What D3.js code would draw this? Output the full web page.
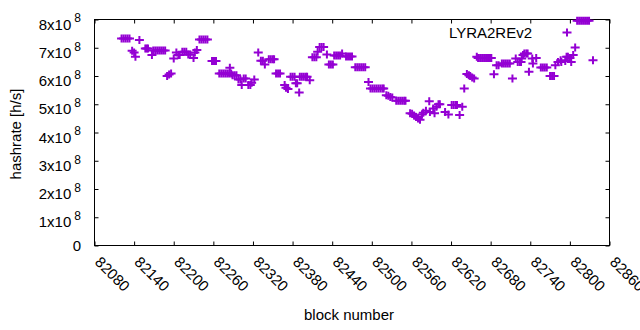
<!DOCTYPE html>
<html>
<head>
<meta charset="utf-8">
<script src="https://cdn.jsdelivr.net/npm/d3@7"></script>
<style>
  html, body { margin: 0; padding: 0; background: #fff; }
  svg { display: block; font-family: "Liberation Sans", Arial, sans-serif; }
</style>
</head>
<body>
<svg id="chart" width="640" height="330"></svg>
<script>
// ---- data ----
const seriesName = "LYRA2REv2";
const xTicks = [82080, 82140, 82200, 82260, 82320, 82380, 82440, 82500, 82560, 82620, 82680, 82740, 82800, 82860];
const yTicks = [0, 1e8, 2e8, 3e8, 4e8, 5e8, 6e8, 7e8, 8e8];
const blocks = [
  82121, 82124, 82127, 82130, 82133, 82137, 82140, 82142, 82148, 82157, 82159, 82161,
  82167, 82169, 82172, 82175, 82178, 82181, 82184, 82187, 82190, 82193, 82196, 82200,
  82204, 82207, 82209, 82213, 82216, 82219, 82222, 82225, 82230, 82232, 82235, 82239,
  82242, 82245, 82248, 82251, 82258, 82261, 82264, 82269, 82272, 82275, 82278, 82281,
  82284, 82285, 82287, 82289, 82292, 82295, 82298, 82301, 82303, 82306, 82309, 82313,
  82316, 82318, 82322, 82328, 82332, 82335, 82338, 82344, 82347, 82350, 82352, 82355,
  82358, 82361, 82368, 82370, 82373, 82377, 82380, 82383, 82385, 82387, 82390, 82391,
  82394, 82397, 82400, 82402, 82406, 82410, 82413, 82416, 82418, 82421, 82424, 82427,
  82432, 82435, 82438, 82441, 82443, 82446, 82449, 82452, 82455, 82461, 82464, 82467,
  82470, 82475, 82478, 82481, 82484, 82487, 82490, 82495, 82498, 82501, 82504, 82507,
  82510, 82513, 82516, 82518, 82522, 82525, 82528, 82531, 82537, 82540, 82543, 82546,
  82549, 82551, 82558, 82561, 82564, 82567, 82570, 82573, 82576, 82578, 82582, 82587,
  82588, 82593, 82595, 82598, 82601, 82603, 82611, 82616, 82621, 82624, 82627, 82629,
  82633, 82637, 82640, 82644, 82647, 82649, 82652, 82655, 82659, 82661, 82664, 82667,
  82670, 82673, 82676, 82679, 82681, 82685, 82689, 82692, 82697, 82700, 82703, 82706,
  82709, 82713, 82718, 82721, 82724, 82726, 82727, 82729, 82731, 82734, 82736, 82738,
  82743, 82744, 82749, 82756, 82759, 82762, 82765, 82770, 82773, 82776, 82778, 82782,
  82786, 82787, 82793, 82795, 82797, 82800, 82802, 82805, 82808, 82811, 82814, 82817,
  82820, 82823, 82826, 82829, 82835
];
const hashrate = [
  7.33e8, 7.33e8, 7.33e8, 7.33e8, 7.33e8, 6.89e8, 6.83e8, 6.68e8, 7.27e8, 6.97e8, 6.97e8, 6.97e8,
  6.74e8, 6.90e8, 6.90e8, 6.90e8, 6.90e8, 6.90e8, 6.90e8, 6.90e8, 6.00e8, 6.05e8, 6.09e8, 6.62e8,
  6.83e8, 6.74e8, 6.74e8, 6.86e8, 6.86e8, 6.86e8, 6.76e8, 6.76e8, 6.64e8, 6.83e8, 6.92e8, 7.29e8,
  7.29e8, 7.29e8, 7.29e8, 7.29e8, 6.53e8, 6.53e8, 6.53e8, 6.09e8, 6.09e8, 6.09e8, 6.09e8, 6.09e8,
  6.09e8, 6.29e8, 6.09e8, 6.03e8, 6.03e8, 6.03e8, 5.88e8, 5.88e8, 5.68e8, 5.91e8, 5.91e8, 5.68e8,
  5.68e8, 5.76e8, 5.88e8, 6.83e8, 6.54e8, 6.54e8, 6.41e8, 6.59e8, 6.59e8, 6.59e8, 6.59e8, 6.09e8,
  6.09e8, 6.09e8, 5.68e8, 5.58e8, 5.54e8, 5.97e8, 5.97e8, 5.97e8, 5.74e8, 5.74e8, 5.42e8, 5.97e8,
  5.97e8, 5.97e8, 5.97e8, 5.97e8, 5.85e8, 6.66e8, 6.66e8, 6.66e8, 6.86e8, 7.03e8, 7.03e8, 7.03e8,
  6.76e8, 6.41e8, 6.41e8, 6.41e8, 6.73e8, 6.73e8, 6.73e8, 6.73e8, 6.80e8, 6.69e8, 6.69e8, 6.69e8,
  6.69e8, 6.31e8, 6.31e8, 6.31e8, 6.31e8, 6.31e8, 6.31e8, 5.79e8, 5.56e8, 5.56e8, 5.56e8, 5.56e8,
  5.56e8, 5.56e8, 5.56e8, 5.56e8, 5.32e8, 5.30e8, 5.26e8, 5.24e8, 5.12e8, 5.12e8, 5.12e8, 5.12e8,
  5.12e8, 5.12e8, 4.68e8, 4.66e8, 4.60e8, 4.55e8, 4.50e8, 4.45e8, 4.64e8, 4.70e8, 4.77e8, 5.11e8,
  4.73e8, 4.85e8, 4.68e8, 4.91e8, 5.00e8, 5.00e8, 4.73e8, 4.64e8, 4.97e8, 4.97e8, 4.97e8, 4.97e8,
  4.62e8, 4.91e8, 5.56e8, 6.07e8, 6.03e8, 6.00e8, 5.95e8, 5.91e8, 6.68e8, 6.64e8, 6.64e8, 6.64e8,
  6.64e8, 6.64e8, 6.64e8, 6.64e8, 6.64e8, 6.06e8, 6.38e8, 6.38e8, 6.44e8, 6.44e8, 6.44e8, 6.44e8,
  6.44e8, 5.91e8, 6.62e8, 6.50e8, 6.50e8, 6.50e8, 6.62e8, 6.74e8, 6.80e8, 6.80e8, 6.80e8, 6.15e8,
  6.62e8, 6.44e8, 6.64e8, 6.30e8, 6.30e8, 6.30e8, 6.30e8, 6.00e8, 6.00e8, 6.00e8, 6.38e8, 6.50e8,
  6.56e8, 6.50e8, 6.53e8, 6.68e8, 6.68e8, 6.64e8, 6.50e8, 6.74e8, 7.01e8, 7.96e8, 7.96e8, 7.96e8,
  7.96e8, 7.96e8, 7.96e8, 7.96e8, 6.56e8
];

// ---- layout ----
const plot = { left: 94.5, right: 609.5, top: 19.5, bottom: 245.5 };
const color = "#9400D3";
const fontSize = 15;

const svg = d3.select("#chart");
const x = d3.scaleLinear().domain([82080, 82860]).range([plot.left, plot.right]);
const y = d3.scaleLinear().domain([0, 8e8]).range([plot.bottom, plot.top]);

const data = blocks.map((b, i) => ({ b, v: hashrate[i] }));

// frame
svg.append("rect")
  .attr("x", plot.left).attr("y", plot.top)
  .attr("width", plot.right - plot.left).attr("height", plot.bottom - plot.top)
  .attr("fill", "none").attr("stroke", "#000").attr("stroke-width", 1);

// axes (ticks pointing inward, mirrored)
const gxB = svg.append("g").attr("transform", `translate(0,${plot.bottom})`)
  .call(d3.axisBottom(x).tickValues(xTicks).tickSizeInner(-4).tickSizeOuter(0).tickFormat(d => d));
const gxT = svg.append("g").attr("transform", `translate(0,${plot.top})`)
  .call(d3.axisTop(x).tickValues(xTicks).tickSizeInner(-4).tickSizeOuter(0).tickFormat(""));
const gyL = svg.append("g").attr("transform", `translate(${plot.left},0)`)
  .call(d3.axisLeft(y).tickValues(yTicks).tickSizeInner(-4).tickSizeOuter(0).tickPadding(13.5));
const gyR = svg.append("g").attr("transform", `translate(${plot.right},0)`)
  .call(d3.axisRight(y).tickValues(yTicks).tickSizeInner(-4).tickSizeOuter(0).tickFormat(""));

[gxB, gxT, gyL, gyR].forEach(g => {
  g.select(".domain").remove();
  g.selectAll(".tick line").attr("stroke", "#000").attr("stroke-width", 1);
  g.selectAll("text").attr("font-family", "Liberation Sans, Arial, sans-serif")
    .attr("font-size", fontSize).attr("fill", "#000");
});

// rotated x labels
gxB.selectAll(".tick text")
  .attr("text-anchor", "start")
  .attr("x", 0).attr("y", 0).attr("dy", 0)
  .attr("transform", "translate(-1,17.5) rotate(45)");

// y labels with superscripts
gyL.selectAll(".tick text").each(function(d) {
  const t = d3.select(this);
  t.text(null).attr("dy", 0).attr("text-anchor", "end");
  if (d === 0) {
    t.attr("y", 5.3).text("0");
  } else {
    t.attr("y", 9.7);
    t.append("tspan").text(`${d / 1e8}x10`);
    t.append("tspan").attr("dx", 3).attr("dy", -7.3).attr("font-size", 12).text("8");
  }
});

// points
const plus = "M-4.5,0H4.5M0,-4V4";
svg.append("g").selectAll("path").data(data).join("path")
  .attr("d", plus)
  .attr("transform", d => `translate(${x(d.b)},${y(d.v)})`)
  .attr("fill", "none").attr("stroke", color).attr("stroke-width", 2);

// axis titles
svg.append("text").attr("x", 349).attr("y", 320).attr("text-anchor", "middle")
  .attr("font-size", fontSize).text("block number");
svg.append("text").attr("transform", "translate(21,134) rotate(-90)").attr("text-anchor", "middle")
  .attr("font-size", fontSize).text("hashrate [h/s]");

// legend
svg.append("text").attr("x", 532).attr("y", 37.5).attr("text-anchor", "end")
  .attr("font-size", fontSize).text(seriesName);
svg.append("path").attr("d", plus).attr("transform", "translate(567,32.5)")
  .attr("fill", "none").attr("stroke", color).attr("stroke-width", 2);
</script>
</body>
</html>
